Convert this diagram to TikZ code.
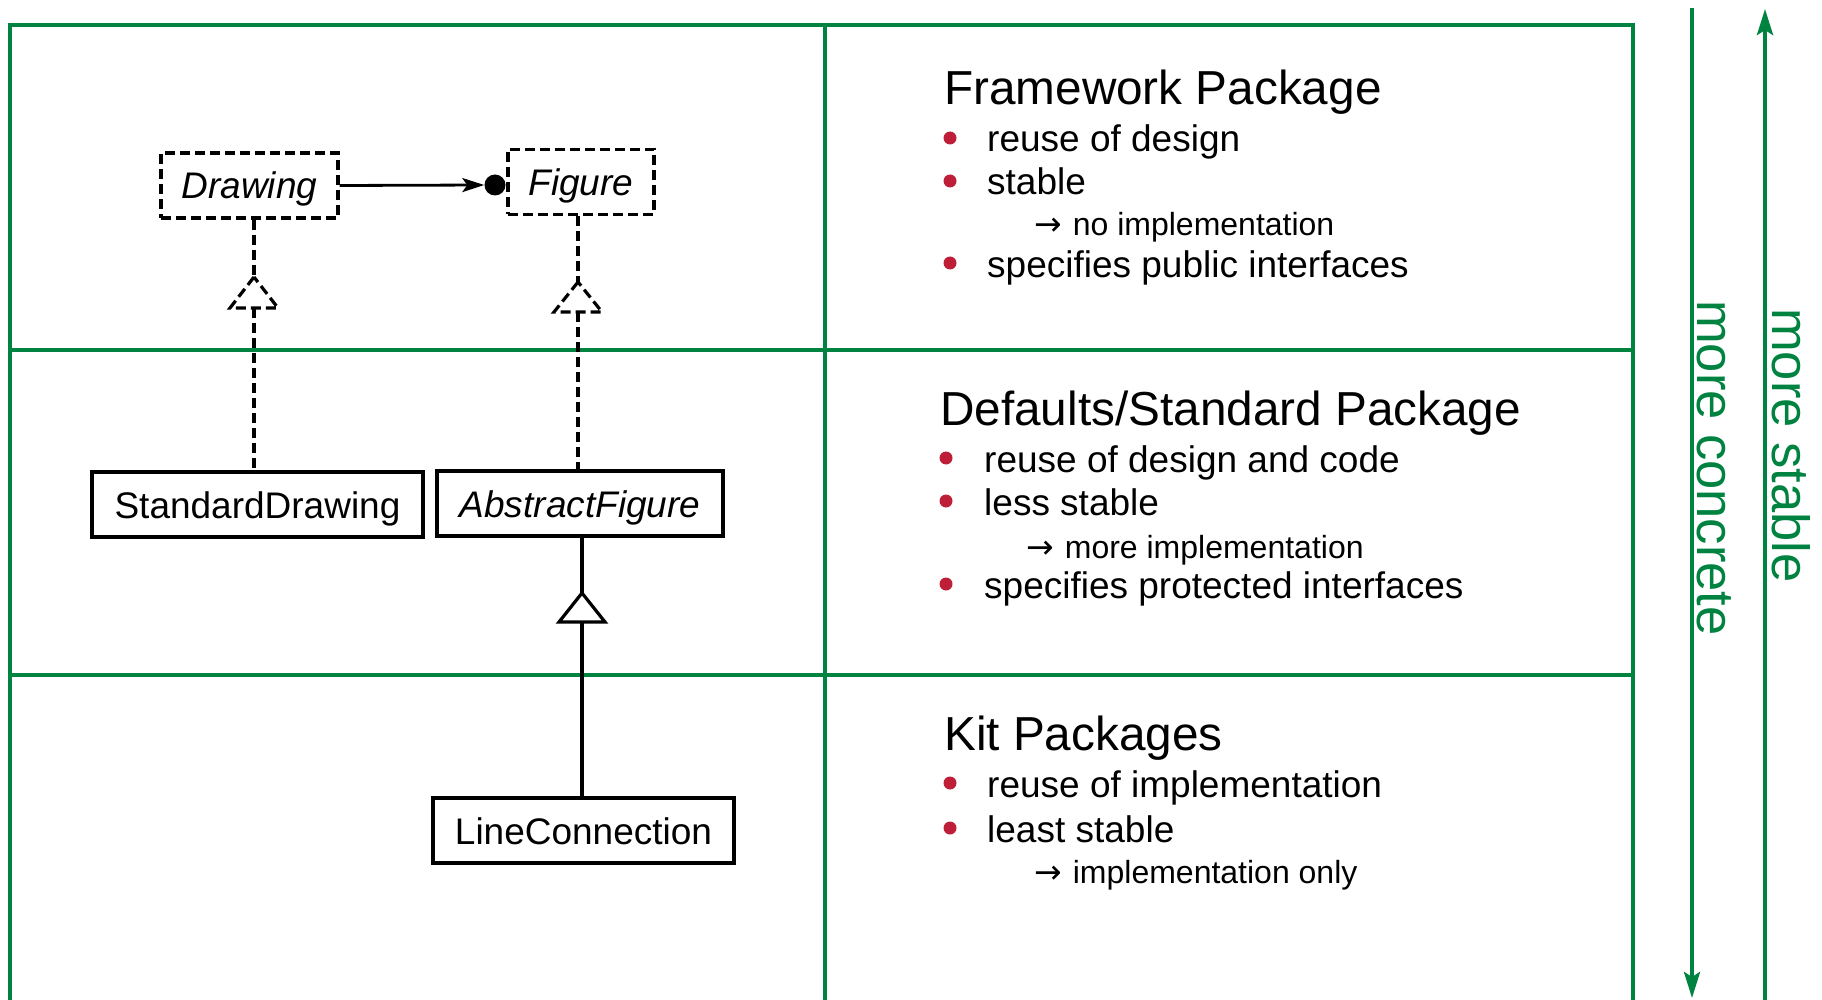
\documentclass[tikz,border=0pt]{standalone}
\usepackage{fontspec}
\setmainfont{Liberation Sans}
\newfontfamily\arrowfont{DejaVu Sans}
\usetikzlibrary{arrows.meta}
\definecolor{pkggreen}{RGB}{0,130,64}
\definecolor{bulletred}{RGB}{190,30,55}
\newcommand{\subarrow}{{\arrowfont\fontsize{33}{38}\selectfont →}\hspace{11pt}}
\begin{document}
\begin{tikzpicture}[x=1pt,y=-1pt,
  frame/.style={pkggreen, line width=3.4pt},
  scalearrow/.style={pkggreen, line width=4pt, -{Stealth[length=26pt,width=16pt,inset=5pt]}},
  sidelabel/.style={pkggreen, rotate=-90, anchor=base west, inner sep=0pt, font=\fontsize{52.5}{62}\selectfont},
  umlbox/.style={draw, line width=3.2pt, rectangle, inner sep=0pt, minimum height=65pt,
    text height=27pt, text depth=0pt, font=\fontsize{37}{44}\selectfont},
  ifacebox/.style={umlbox, dash pattern=on 10pt off 5pt, font=\fontsize{37}{44}\selectfont\itshape},
  dashline/.style={line width=3.2pt, dash pattern=on 10pt off 5pt},
  solidline/.style={line width=3.2pt},
  heading/.style={anchor=base west, inner sep=0pt, font=\fontsize{47.7}{56}\selectfont},
  itemtext/.style={anchor=base west, inner sep=0pt, font=\fontsize{37}{44}\selectfont},
  subtext/.style={anchor=base west, inner sep=0pt, font=\fontsize{32}{38}\selectfont},
  bulletdot/.style={circle, fill=bulletred, inner sep=0pt, minimum size=13pt},
]
\useasboundingbox (0,0) rectangle (1822,1000);

% ---- green frame ----
\draw[frame] (10,1000) -- (10,25) -- (1633,25) -- (1633,1000);
\draw[frame] (825,25) -- (825,1000);
\draw[frame] (10,350) -- (1633,350);
\draw[frame] (10,675) -- (1633,675);

% ---- side arrows ----
\coordinate (concTop) at (1692,8);
\coordinate (concBot) at (1692,998);
\coordinate (stabBot) at (1765,1000);
\coordinate (stabTop) at (1765,9);
\draw[scalearrow] (concTop) -- (concBot);
\draw[scalearrow] (stabBot) -- (stabTop);
\node[sidelabel] (concrete) at (1697,300) {more concrete};
\node[sidelabel] (stable) at (1772,308) {more stable};

% ---- UML boxes ----
\node[ifacebox, minimum width=177pt] (drawing) at (249.5,185.5) {Drawing};
\node[ifacebox, minimum width=146pt] (figure) at (581,182) {Figure};
\node[umlbox, minimum width=331pt] (sd) at (257.5,504.5) {StandardDrawing};
\node[umlbox, minimum width=286pt, font=\fontsize{37}{44}\selectfont\itshape] (af) at (580,503.5) {AbstractFigure};
\node[umlbox, minimum width=301pt] (lc) at (583.5,830.5) {LineConnection};

% ---- association with ball ----
\node[circle, fill=black, inner sep=0pt, minimum size=21pt] (dot) at (495,185) {};
\draw[line width=2.8pt, -{Stealth[length=22pt,width=14pt,inset=5pt]}] (drawing.east) -- (dot.west);

% ---- realization Drawing <- StandardDrawing ----
\coordinate (t1) at (254,277);
\coordinate (t1b) at (254,308);
\draw[dashline] (drawing.south -| t1) -- (t1);
\draw[dashline] (t1) -- ++(-24,31) -- ++(48,0) -- cycle;
\draw[dashline] (t1b) -- (sd.north -| t1b);

% ---- realization Figure <- AbstractFigure ----
\coordinate (t2) at (578,282);
\coordinate (t2b) at (578,312);
\draw[dashline] (figure.south -| t2) -- (t2);
\draw[dashline] (t2) -- ++(-24,30) -- ++(48,0) -- cycle;
\draw[dashline] (t2b) -- (af.north -| t2b);

% ---- generalization AbstractFigure <- LineConnection ----
\coordinate (t3) at (582,593);
\coordinate (t3b) at (582,622);
\draw[solidline] (af.south -| t3) -- (t3);
\draw[solidline] (t3) -- ++(-23,29) -- ++(46,0) -- cycle;
\draw[solidline] (t3b) -- (lc.north -| t3b);

% ---- Section 1 ----
\node[heading] (h1) at (944,105) {Framework Package};
\node[bulletdot] (b11) at (950,138) {};
\node[itemtext] (i11) at (987,152) {reuse of design};
\node[bulletdot] (b12) at (950,181) {};
\node[itemtext] (i12) at (987,195) {stable};
\node[subtext] (s11) at (1034,236) {\subarrow no implementation};
\node[bulletdot] (b13) at (950,263) {};
\node[itemtext] (i13) at (987,277) {specifies public interfaces};

% ---- Section 2 ----
\node[heading] (h2) at (940,425) {Defaults/Standard Package};
\node[bulletdot] (b21) at (946,458) {};
\node[itemtext] (i21) at (984,472) {reuse of design and code};
\node[bulletdot] (b22) at (946,501) {};
\node[itemtext] (i22) at (984,515) {less stable};
\node[subtext] (s21) at (1026,558) {\subarrow more implementation};
\node[bulletdot] (b23) at (946,584) {};
\node[itemtext] (i23) at (984,598) {specifies protected interfaces};

% ---- Section 3 ----
\node[heading] (h3) at (944,750) {Kit Packages};
\node[bulletdot] (b31) at (950,783) {};
\node[itemtext] (i31) at (987,797) {reuse of implementation};
\node[bulletdot] (b32) at (950,828) {};
\node[itemtext] (i32) at (987,842) {least stable};
\node[subtext] (s31) at (1034,883) {\subarrow implementation only};
\end{tikzpicture}
\end{document}
